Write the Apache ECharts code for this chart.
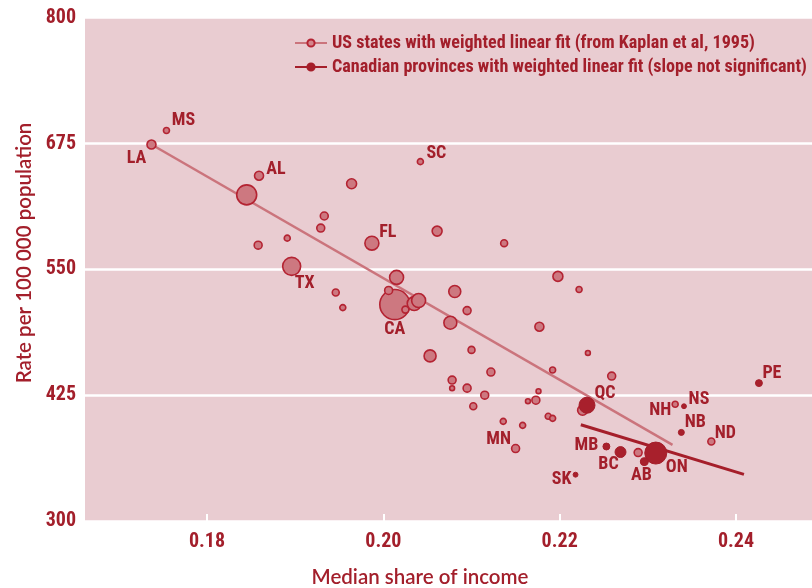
<!DOCTYPE html>
<html>
<head>
<meta charset="utf-8">
<title>Homicide rate vs median share of income</title>
<script src="https://cdn.jsdelivr.net/npm/echarts@6/dist/echarts.min.js"></script>
<style>
  html, body { margin: 0; padding: 0; background: #ffffff; }
  #chart { width: 812px; height: 588px; }
</style>
</head>
<body>
<div id="chart"></div>
<script>
// ---- data ----
const xTickValues = [0.18, 0.20, 0.22, 0.24];

const usStates = ['MS','LA','SC','AL','','','','','FL','','','','','TX','','','','','','','','CA','','','','','','','','','','','','','','','','','','','','','','','','','MN','','NH','ND',''];
const usShare  = [0.1754,0.1737,0.2042,0.1859,0.1964,0.1845,0.1933,0.1929,0.1987,0.2061,0.1858,0.1891,0.2137,0.1896,0.2015,0.2198,0.2222,0.2006,0.1946,0.2081,0.1954,0.2013,0.2035,0.2040,0.2025,0.2095,0.2076,0.2177,0.2100,0.2053,0.2232,0.2192,0.2122,0.2259,0.2078,0.2078,0.2095,0.2115,0.2176,0.2173,0.2164,0.2102,0.2187,0.2192,0.2136,0.2158,0.2150,0.2226,0.2331,0.2372,0.2289];
const usRate   = [688,674,657,643,635,624,603,591,576,588,574,581,576,553,542,543,530,529,527,528,512,515,516,519,510,509,497,493,470,464,467,450,448,444,440,432,432,425,429,420,419,414,404,402,399,395,372,410,416,379,368];
// population weight, millions
const usWeight = [1.2,2.7,1.2,2.7,3.3,13.3,2.1,2.1,6.5,3.3,2.1,1.2,1.6,10.8,6.5,3.3,1.2,2.1,1.6,4.8,1.2,30,6.5,6.5,1.6,2.1,5.6,2.7,1.6,4.8,0.8,1.2,2.1,2.1,2.1,0.8,2.1,2.1,0.8,2.1,0.8,1.6,1.2,1.2,1.2,1.2,2.1,3.3,1.2,1.6,2.1];

const caProvinces = ['QC','ON','BC','AB','MB','SK','NS','NB','PE'];
const caShare  = [0.2231,0.2309,0.2269,0.2296,0.2253,0.2218,0.2341,0.2338,0.2426];
const caRate   = [415,367.5,368.5,359,374,346,414,388,437];
const caWeight = [8.5,16.1,4.0,2.1,1.6,0.8,0.8,1.2,1.6];

// weighted linear fits (end points)
const usFitShare = [0.1737, 0.2328];
const usFitRate  = [674, 375.7];
const caFitShare = [0.2224, 0.2409];
const caFitRate  = [395.6, 346.3];

const usLegend = 'US states with weighted linear fit (from Kaplan et al, 1995)';
const caLegend = 'Canadian provinces with weighted linear fit (slope not significant)';

// ---- styling ----
const RED = '#a31f2b';
const NARROW = "'Roboto Condensed', 'Liberation Sans Narrow', sans-serif";
const HUMANIST = "Lato, 'Open Sans', sans-serif";
const WEIGHT = 'bold';

// label offsets (text centre relative to the marker centre)
const labelOffset = {
  MS: [17, -10], LA: [-15, 14], SC: [16, -8], AL: [17, -6], FL: [16, -11],
  TX: [13, 17], CA: [0, 25], MN: [-17, -9], NH: [-15, 6], ND: [14, -8],
  QC: [18, -12], ON: [21, 14], BC: [-12, 12], AB: [-3, 14], MB: [-20, -1],
  SK: [-14, 5], NS: [15, -7], NB: [14, -10], PE: [13, -10]
};

function points(names, xs, ys, ws) {
  const items = names.map((n, i) => ({
    name: n,
    value: [xs[i], ys[i], ws[i]],
    label: n ? { show: true, offset: labelOffset[n] || [0, 0] } : { show: false }
  }));
  // larger circles first so smaller ones stay visible on top
  return items.sort((a, b) => b.value[2] - a.value[2]);
}
function line(xs, ys) { return xs.map((x, i) => [x, ys[i]]); }
const radius = w => 2.74 * Math.sqrt(w);

const pointLabel = {
  position: 'inside',
  formatter: '{b}',
  color: RED,
  fontFamily: NARROW,
  fontWeight: WEIGHT,
  fontSize: 18,
  align: 'center',
  verticalAlign: 'middle'
};

const chart = echarts.init(document.getElementById('chart'), null, { renderer: 'canvas' });
chart.setOption({
  animation: false,
  backgroundColor: '#ffffff',
  grid: {
    left: 85, right: 0, top: 17.7, bottom: 67,
    show: true, backgroundColor: '#e9ccd1', borderWidth: 0
  },
  legend: {
    orient: 'vertical',
    left: 289, top: 29,
    itemWidth: 32, itemHeight: 9, itemGap: 6,
    selectedMode: false,
    textStyle: { color: RED, fontFamily: NARROW, fontWeight: WEIGHT, fontSize: 18.1 },
    data: [usLegend, caLegend]
  },
  xAxis: {
    type: 'value',
    min: 0.16616, max: 0.24862,
    axisLine: { show: false },
    splitLine: { show: false },
    axisTick: {
      show: true, inside: true, length: 7, customValues: xTickValues,
      lineStyle: { color: '#ffffff', width: 2 }
    },
    axisLabel: {
      customValues: xTickValues,
      formatter: v => v.toFixed(2),
      color: RED, fontFamily: NARROW, fontWeight: WEIGHT, fontSize: 20, margin: 11
    }
  },
  yAxis: {
    type: 'value',
    min: 300, max: 800, interval: 125,
    axisLine: { show: false },
    axisTick: { show: false },
    splitLine: { show: true, lineStyle: { color: '#ffffff', width: 2.5 } },
    axisLabel: { color: RED, fontFamily: NARROW, fontWeight: WEIGHT, fontSize: 20, margin: 9 }
  },
  graphic: [
    {
      type: 'text', x: 24, y: 253, rotation: Math.PI / 2,
      style: {
        text: 'Rate per 100 000 population', fill: RED,
        font: '600 20.5px ' + HUMANIST, align: 'center', verticalAlign: 'middle'
      }
    },
    {
      type: 'text', x: 420, y: 577,
      style: {
        text: 'Median share of income', fill: RED,
        font: '600 20.5px ' + HUMANIST, align: 'center', verticalAlign: 'middle'
      }
    }
  ],
  series: [
    {
      name: usLegend, type: 'line', data: line(usFitShare, usFitRate),
      symbol: 'circle', symbolSize: 7, showSymbol: false,
      lineStyle: { color: '#cb747c', width: 2.5 },
      itemStyle: { color: '#d4858c', borderColor: '#b42332', borderWidth: 1.5 },
      z: 2, silent: true
    },
    {
      name: caLegend, type: 'line', data: line(caFitShare, caFitRate),
      symbol: 'circle', symbolSize: 7, showSymbol: false,
      lineStyle: { color: '#a51e2a', width: 3 },
      itemStyle: { color: '#a51e2a', borderColor: '#a51e2a', borderWidth: 1 },
      z: 2, silent: true
    },
    {
      name: 'US states', type: 'scatter',
      data: points(usStates, usShare, usRate, usWeight),
      symbolSize: v => 2 * radius(v[2]),
      itemStyle: { color: '#cd7880', borderColor: '#b42332', borderWidth: 1.6, opacity: 1 },
      label: pointLabel,
      z: 3
    },
    {
      name: 'Canadian provinces', type: 'scatter',
      data: points(caProvinces, caShare, caRate, caWeight),
      symbolSize: v => 2 * radius(v[2]),
      itemStyle: { color: '#a8202c', borderColor: '#a51e2a', borderWidth: 1, opacity: 1 },
      label: pointLabel,
      z: 4
    }
  ]
});
</script>
</body>
</html>
